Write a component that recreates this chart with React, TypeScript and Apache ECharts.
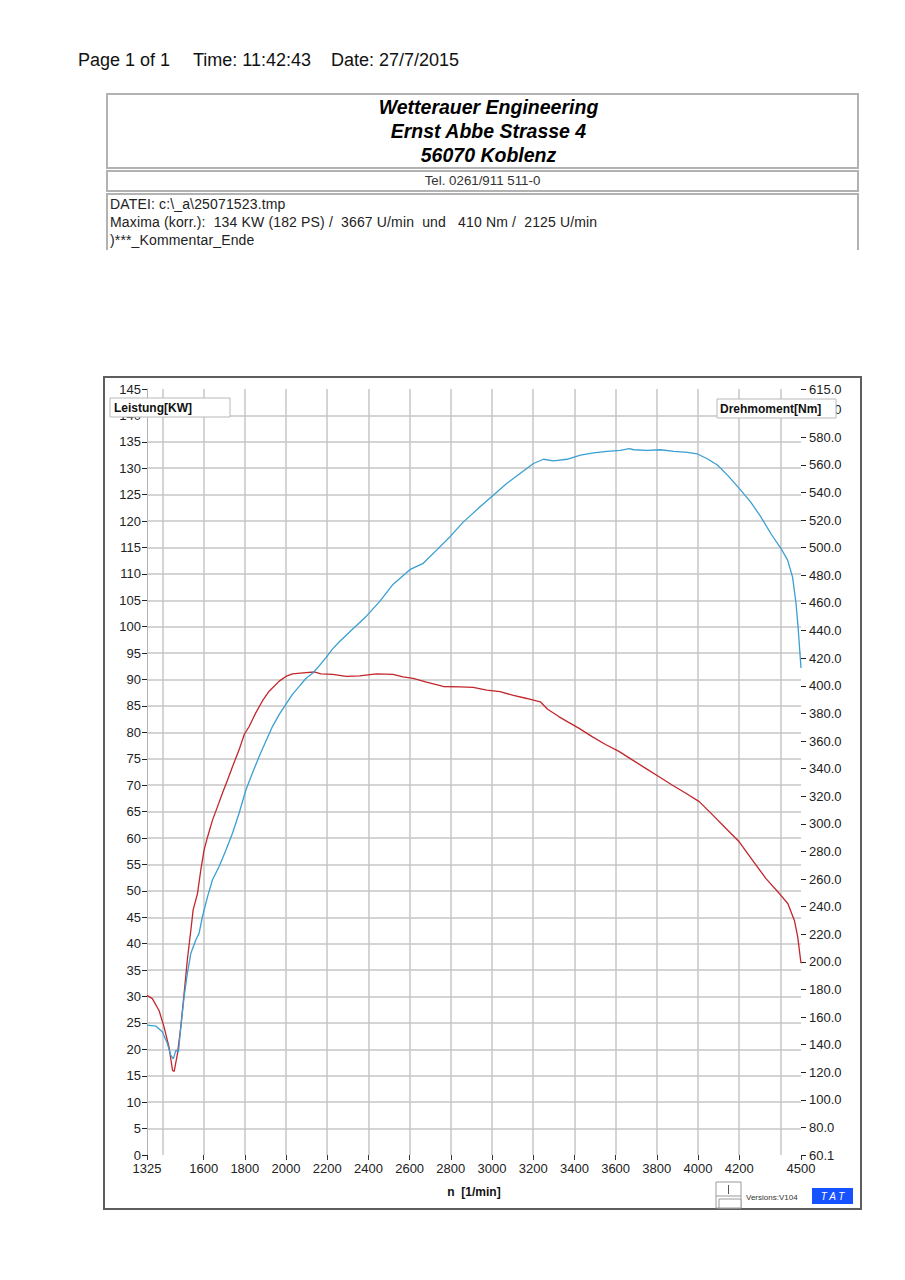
import React, { useEffect, useRef } from "react";
import * as echarts from "echarts";

// ---- data ----
const rpmPower = [1325, 1368, 1400, 1424, 1440, 1453, 1465, 1478, 1489, 1505, 1521, 1538, 1562, 1578, 1594, 1619, 1643, 1675, 1708, 1740, 1772, 1805, 1837, 1870, 1902, 1934, 1967, 1999, 2031, 2064, 2096, 2129, 2161, 2195, 2226, 2260, 2325, 2390, 2455, 2519, 2601, 2666, 2731, 2795, 2860, 2942, 3006, 3071, 3136, 3201, 3250, 3299, 3364, 3429, 3494, 3558, 3623, 3667, 3688, 3753, 3818, 3883, 3948, 3997, 4045, 4094, 4143, 4200, 4256, 4305, 4354, 4403, 4435, 4459, 4476, 4487, 4500];
const powerKW = [24.6, 24.4, 23.3, 21.1, 18.9, 18.2, 19.8, 19.5, 24.2, 29.9, 34.4, 38.2, 40.7, 42, 45.1, 48.9, 52.1, 54.6, 57.7, 60.9, 64.7, 69.1, 72.3, 75.5, 78.3, 81.1, 83.4, 85.3, 87.2, 88.7, 90.2, 91.2, 92.6, 94.2, 95.8, 97.2, 99.6, 102, 104.8, 108, 110.8, 112, 114.5, 117, 119.8, 122.7, 124.9, 127.1, 129, 130.9, 131.7, 131.4, 131.7, 132.5, 132.9, 133.2, 133.4, 133.7, 133.5, 133.4, 133.5, 133.2, 133, 132.7, 131.8, 130.6, 128.7, 126.2, 123.6, 120.8, 117.6, 114.8, 112.6, 109.4, 104.4, 99.3, 92.2];

const rpmTorque = [1325, 1351, 1384, 1408, 1432, 1449, 1457, 1473, 1489, 1505, 1521, 1538, 1549, 1570, 1586, 1602, 1619, 1643, 1667, 1691, 1716, 1740, 1772, 1797, 1821, 1853, 1886, 1918, 1967, 1999, 2031, 2097, 2137, 2169, 2227, 2292, 2357, 2438, 2519, 2568, 2617, 2682, 2763, 2844, 2909, 2974, 3039, 3104, 3169, 3234, 3270, 3324, 3372, 3421, 3486, 3551, 3616, 3681, 3746, 3811, 3876, 3941, 4006, 4071, 4136, 4200, 4265, 4330, 4395, 4436, 4468, 4484, 4500];
const torqueNm = [175.7, 173.4, 164.6, 152.7, 138.2, 121.3, 120.6, 133.6, 152.7, 176.8, 201.7, 223.1, 237.7, 249.5, 266.4, 280.9, 290.5, 302.7, 312.3, 322.2, 331.8, 341.4, 353.6, 364.7, 370.5, 380.4, 389.2, 396.1, 403.4, 406.8, 408.7, 409.5, 410, 408.7, 408.3, 406.8, 407.2, 408.7, 408.3, 406.4, 405.3, 402.6, 399.5, 399.2, 398.8, 396.9, 395.7, 393, 390.8, 388.4, 383, 377.7, 373.5, 369.3, 363.2, 357.5, 352.5, 346.3, 340.2, 334.1, 328, 322.2, 316.1, 306.5, 296.6, 287, 273.6, 260.3, 249.5, 242.3, 230, 218.1, 199];

const xLabelValues = [1325, 1600, 1800, 2000, 2200, 2400, 2600, 2800, 3000, 3200, 3400, 3600, 3800, 4000, 4200, 4500];
const xGridValues = [1400, 1600, 1800, 2000, 2200, 2400, 2600, 2800, 3000, 3200, 3400, 3600, 3800, 4000, 4200, 4400];
const rightLabelValues = [60.1, 80, 100, 120, 140, 160, 180, 200, 220, 240, 260, 280, 300, 320, 340, 360, 380, 400, 420, 440, 460, 480, 500, 520, 540, 560, 580, 600, 615];

const powerLabel = "Leistung[KW]";
const torqueLabel = "Drehmoment[Nm]";
const xName = "n  [1/min]";

const headerParts = ["Page 1 of 1", "Time: 11:42:43", "Date: 27/7/2015"];
const titleLines = ["Wetterauer Engineering", "Ernst Abbe Strasse 4", "56070 Koblenz"];
const telLine = "Tel. 0261/911 511-0";
const infoLines = [
  "DATEI: c:\\_a\\25071523.tmp",
  "Maxima (korr.):  134 KW (182 PS) /  3667 U/min  und   410 Nm /  2125 U/min",
  ")***_Kommentar_Ende",
];

const FONT = "'Liberation Sans', Arial, sans-serif";

export default function App() {
  const ref = useRef<HTMLDivElement>(null);

  useEffect(() => {
    if (!ref.current) return;
    const chart = echarts.init(ref.current, undefined, { renderer: "svg" });
    const option: any = {
      animation: false,
      textStyle: { fontFamily: FONT },
      grid: { left: 147, right: 104, top: 389, bottom: 125, containLabel: false },
      xAxis: [
        {
          type: "value",
          min: 1325,
          max: 4500,
          position: "bottom",
          axisLine: { show: false },
          axisTick: { show: true, customValues: xLabelValues, length: 5, lineStyle: { color: "#333" } },
          axisLabel: {
            customValues: xLabelValues,
            formatter: (v: number) => String(Math.round(v)),
            fontSize: 13,
            color: "#222",
            margin: 7,
            fontFamily: FONT,
          },
          splitLine: { show: false },
          name: xName,
          nameLocation: "middle",
          nameGap: 31,
          nameTextStyle: { fontWeight: "bold", fontSize: 12, color: "#111", fontFamily: FONT },
        },
        {
          type: "value",
          min: 1325,
          max: 4500,
          position: "bottom",
          axisLine: { show: false },
          axisLabel: { show: false },
          axisTick: { show: false, customValues: xGridValues },
          splitLine: { show: true, lineStyle: { color: "#c6c6c6", width: 1.5 } },
        },
      ],
      yAxis: [
        {
          type: "value",
          min: 0,
          max: 145,
          interval: 5,
          position: "left",
          axisLine: { show: true, lineStyle: { color: "#b4b4b4", width: 1 } },
          axisTick: { show: true, length: 5, lineStyle: { color: "#222" } },
          axisLabel: { fontSize: 13, color: "#222", margin: 6, fontFamily: FONT },
          splitLine: { show: true, showMinLine: false, showMaxLine: false, lineStyle: { color: "#c6c6c6", width: 1.5 } },
        },
        {
          type: "value",
          min: 60.1,
          max: 615,
          position: "right",
          axisLine: { show: false },
          axisTick: { show: true, customValues: rightLabelValues, length: 5, lineStyle: { color: "#222" } },
          axisLabel: {
            customValues: rightLabelValues,
            formatter: (v: number) => Number(v).toFixed(1),
            fontSize: 13,
            color: "#222",
            margin: 8,
            fontFamily: FONT,
          },
          splitLine: { show: false },
        },
      ],
      series: [
        {
          type: "line",
          name: torqueLabel,
          xAxisIndex: 0,
          yAxisIndex: 1,
          data: rpmTorque.map((r, i) => [r, torqueNm[i]]),
          showSymbol: false,
          symbol: "none",
          lineStyle: { color: "#c2262c", width: 1.3 },
          itemStyle: { color: "#c2262c" },
          z: 3,
        },
        {
          type: "line",
          name: powerLabel,
          xAxisIndex: 0,
          yAxisIndex: 0,
          data: rpmPower.map((r, i) => [r, powerKW[i]]),
          showSymbol: false,
          symbol: "none",
          lineStyle: { color: "#3a9fd2", width: 1.3 },
          itemStyle: { color: "#3a9fd2" },
          z: 4,
        },
      ],
      graphic: [
        {
          type: "rect",
          z: 1,
          shape: { x: 104, y: 377, width: 757, height: 832 },
          style: { fill: "none", stroke: "#5e5e5e", lineWidth: 2 },
        },
        {
          type: "rect",
          z: 100,
          shape: { x: 110, y: 398, width: 120, height: 19 },
          style: { fill: "#ffffff", stroke: "#b8b8b8", lineWidth: 1 },
        },
        {
          type: "text",
          z: 101,
          x: 114,
          y: 407.5,
          style: { text: powerLabel, font: `bold 12px ${FONT}`, fill: "#111", verticalAlign: "middle" },
        },
        {
          type: "rect",
          z: 100,
          shape: { x: 717, y: 399, width: 119, height: 19 },
          style: { fill: "#ffffff", stroke: "#b8b8b8", lineWidth: 1 },
        },
        {
          type: "text",
          z: 101,
          x: 720,
          y: 408.5,
          style: { text: torqueLabel, font: `bold 12px ${FONT}`, fill: "#111", verticalAlign: "middle" },
        },
        {
          type: "rect",
          z: 100,
          shape: { x: 716, y: 1182, width: 25, height: 26 },
          style: { fill: "#ffffff", stroke: "#9a9a9a", lineWidth: 1 },
        },
        {
          type: "line",
          z: 101,
          shape: { x1: 728.5, y1: 1185, x2: 728.5, y2: 1194 },
          style: { stroke: "#555", lineWidth: 1 },
        },
        {
          type: "line",
          z: 101,
          shape: { x1: 716, y1: 1196, x2: 741, y2: 1196 },
          style: { stroke: "#9a9a9a", lineWidth: 1 },
        },
        {
          type: "rect",
          z: 101,
          shape: { x: 719, y: 1199, width: 22, height: 9 },
          style: { fill: "#ffffff", stroke: "#9a9a9a", lineWidth: 1 },
        },
        {
          type: "text",
          z: 101,
          x: 746,
          y: 1197,
          style: { text: "Versions:V104", font: `8px ${FONT}`, fill: "#333", verticalAlign: "middle" },
        },
        {
          type: "rect",
          z: 100,
          shape: { x: 812, y: 1188, width: 41, height: 16 },
          style: { fill: "#1652ff" },
        },
        {
          type: "text",
          z: 101,
          x: 832.5,
          y: 1196,
          style: { text: "T A T", font: `italic 10px ${FONT}`, fill: "#ffffff", align: "center", verticalAlign: "middle" },
        },
      ],
    };
    chart.setOption(option);
    return () => chart.dispose();
  }, []);

  const abs = (s: React.CSSProperties): React.CSSProperties => ({ position: "absolute", boxSizing: "border-box", ...s });
  const headerLefts = [78, 193, 331];

  return (
    <div style={{ position: "absolute", left: 0, top: 0, width: 905, height: 1280, background: "#fff", fontFamily: FONT }}>
      <div ref={ref} style={abs({ left: 0, top: 0, width: 905, height: 1280 })} />
      {headerParts.map((t, i) => (
        <div
          key={i}
          style={abs({ left: headerLefts[i], top: 50, fontSize: 18, lineHeight: "20px", color: "#111", whiteSpace: "pre" })}
        >
          {t}
        </div>
      ))}
      <div style={abs({ left: 106, top: 93, width: 753, height: 76, border: "2px solid #b2b2b2", background: "#fff" })}>
        {titleLines.map((t, i) => (
          <div
            key={i}
            style={{
              textAlign: "center",
              fontSize: 19.5,
              lineHeight: "24px",
              fontWeight: "bold",
              fontStyle: "italic",
              color: "#000",
              paddingLeft: 12,
            }}
          >
            {t}
          </div>
        ))}
      </div>
      <div style={abs({ left: 106, top: 170, width: 753, height: 22, border: "2px solid #b2b2b2", background: "#fff" })}>
        <div style={{ textAlign: "center", fontSize: 13.3, lineHeight: "18px", color: "#333" }}>{telLine}</div>
      </div>
      <div
        style={abs({
          left: 106,
          top: 193,
          width: 753,
          height: 57,
          borderLeft: "2px solid #b2b2b2",
          borderRight: "2px solid #b2b2b2",
          borderTop: "2px solid #b2b2b2",
          background: "#fff",
          paddingLeft: 2,
        })}
      >
        {infoLines.map((t, i) => (
          <div key={i} style={{ fontSize: 14, lineHeight: "18px", letterSpacing: "0.15px", color: "#222", whiteSpace: "pre" }}>
            {t}
          </div>
        ))}
      </div>
    </div>
  );
}
